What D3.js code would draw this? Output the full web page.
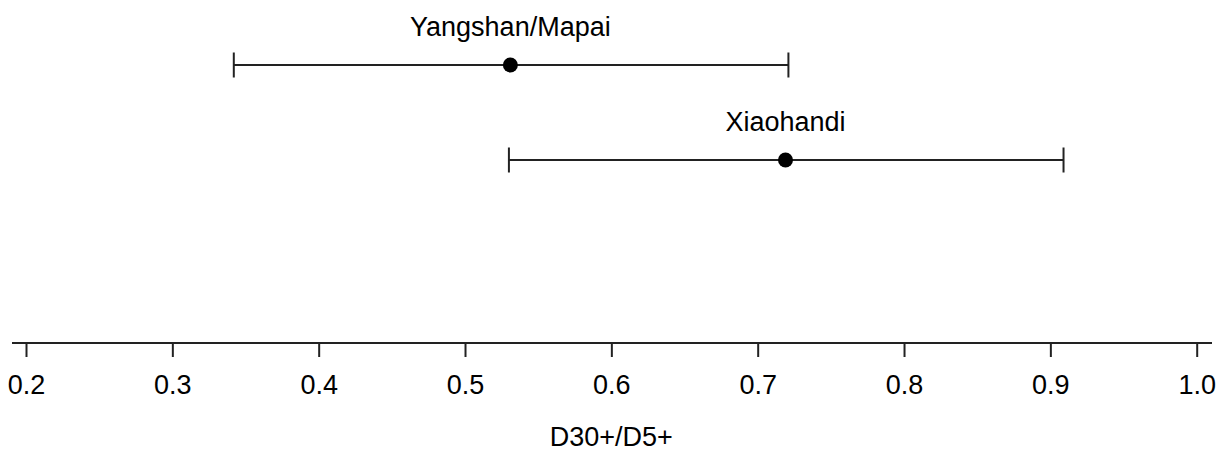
<!DOCTYPE html>
<html>
<head>
<meta charset="utf-8">
<script src="https://cdn.jsdelivr.net/npm/d3@7"></script>
<style>
  html, body { margin: 0; padding: 0; background: #fff; }
  svg { display: block; font-family: "Liberation Sans", Arial, sans-serif; }
</style>
</head>
<body>
<svg id="chart" width="1226" height="453"></svg>
<script>
// Ratio estimates with lower / upper interval bounds per site
const sites = ["Yangshan/Mapai", "Xiaohandi"];
const estimates = [0.531, 0.719];
const lower = [0.342, 0.530];
const upper = [0.721, 0.909];
const tickValues = [0.2, 0.3, 0.4, 0.5, 0.6, 0.7, 0.8, 0.9, 1.0];
const axisTitle = "D30+/D5+";

const svg = d3.select("#chart");
const ink = "#222";

const x = d3.scaleLinear().domain([0.2, 1.0]).range([26, 1196.7]);
const y = d3.scalePoint().domain(sites).range([65, 160]);

const rows = sites.map((s, i) => ({ site: s, est: estimates[i], lo: lower[i], hi: upper[i] }));

const g = svg.append("g");

// interval whiskers
g.selectAll("line.bar").data(rows).join("line")
  .attr("class", "bar")
  .attr("x1", d => x(d.lo)).attr("x2", d => x(d.hi))
  .attr("y1", d => y(d.site)).attr("y2", d => y(d.site))
  .attr("stroke", ink).attr("stroke-width", 2);

// end caps
const caps = rows.flatMap(d => [{ v: d.lo, site: d.site }, { v: d.hi, site: d.site }]);
g.selectAll("line.cap").data(caps).join("line")
  .attr("class", "cap")
  .attr("x1", d => x(d.v)).attr("x2", d => x(d.v))
  .attr("y1", d => y(d.site) - 12.5).attr("y2", d => y(d.site) + 12.5)
  .attr("stroke", ink).attr("stroke-width", 2);

// point estimates
g.selectAll("circle").data(rows).join("circle")
  .attr("cx", d => x(d.est)).attr("cy", d => y(d.site))
  .attr("r", 7.5).attr("fill", "#000");

// site labels
g.selectAll("text.site").data(rows).join("text")
  .attr("class", "site")
  .attr("x", d => x(d.est)).attr("y", d => y(d.site) - 29)
  .attr("text-anchor", "middle")
  .attr("font-size", 27).attr("fill", "#000")
  .text(d => d.site);

// x axis
const axisY = 343;
const axis = d3.axisBottom(x).tickValues(tickValues).tickFormat(d3.format(".1f"))
  .tickSize(14).tickPadding(18);
const ax = svg.append("g").attr("transform", `translate(0,${axisY})`).call(axis);
ax.select(".domain").remove();
ax.selectAll(".tick line").attr("stroke", ink).attr("stroke-width", 2);
ax.selectAll(".tick text").attr("font-size", 27).attr("fill", "#000")
  .attr("font-family", "Liberation Sans, Arial, sans-serif");
ax.append("line")
  .attr("x1", 12).attr("x2", 1212).attr("y1", 0).attr("y2", 0)
  .attr("stroke", ink).attr("stroke-width", 2);

// axis title
svg.append("text")
  .attr("x", (x.range()[0] + x.range()[1]) / 2).attr("y", 446)
  .attr("text-anchor", "middle").attr("font-size", 27).attr("fill", "#000")
  .text(axisTitle);
</script>
</body>
</html>
